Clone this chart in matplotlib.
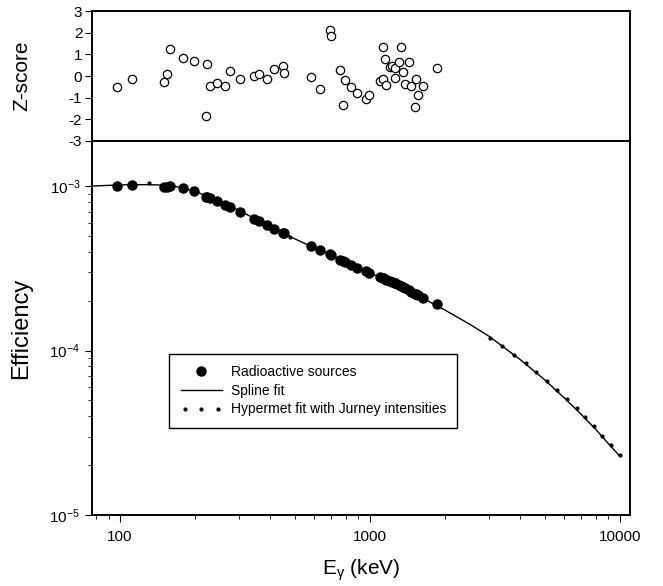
import numpy as np
import matplotlib
matplotlib.use("Agg")
import matplotlib.pyplot as plt
from matplotlib.lines import Line2D
from matplotlib.legend_handler import HandlerLine2D
from matplotlib.ticker import LogLocator, NullFormatter

plt.rcParams['font.family'] = ['Liberation Sans', 'DejaVu Sans']
plt.rcParams['mathtext.fontset'] = 'custom'
plt.rcParams['mathtext.rm'] = 'Liberation Sans'
plt.rcParams['mathtext.it'] = 'Liberation Sans:italic'
plt.rcParams['axes.unicode_minus'] = False

# source energies (keV) with their z-scores and measured efficiencies
energy = [97.5, 111.7, 150, 154.6, 158.8, 178, 197.7, 222.8, 221, 228, 245, 264, 276,
          303, 345, 359.5, 388, 415, 449, 452, 580, 631, 692, 699.6, 762, 783,
          796.6, 841, 891, 964, 994, 1094, 1128, 1124, 1151, 1159, 1208, 1228,
          1259, 1262, 1306, 1337, 1352, 1384, 1438, 1467, 1534, 1518, 1565, 1631, 1850]
zscore = [-0.53, -0.15, -0.27, 0.09, 1.25, 0.82, 0.69, 0.56, -1.83, -0.46, -0.34, -0.44, 0.23,
          -0.12, -0.02, 0.11, -0.14, 0.34, 0.44, 0.12, -0.05, -0.61, 2.11, 1.85, 0.29, -1.33,
          -0.2, -0.53, -0.79, -1.08, -0.89, -0.24, 1.36, -0.12, 0.78, -0.43, 0.43, 0.47,
          0.35, -0.11, 0.63, 1.33, 0.18, -0.38, 0.66, -0.46, -0.15, -1.45, -0.89, -0.46, 0.35]
eff = [1.00e-3, 1.01e-3, 0.99e-3, 0.99e-3, 1.00e-3, 0.97e-3, 0.93e-3, 0.86e-3, 0.86e-3,
       0.845e-3, 0.81e-3, 0.77e-3, 0.75e-3, 0.70e-3, 0.63e-3, 0.61e-3, 0.58e-3, 0.55e-3,
       0.52e-3, 0.52e-3, 0.43e-3, 0.41e-3, 0.385e-3, 0.38e-3, 0.356e-3, 0.348e-3,
       0.343e-3, 0.331e-3, 0.318e-3, 0.304e-3, 0.297e-3, 0.28e-3, 0.275e-3, 0.275e-3,
       0.271e-3, 0.269e-3, 0.263e-3, 0.26e-3, 0.257e-3, 0.257e-3, 0.251e-3, 0.247e-3,
       0.245e-3, 0.24e-3, 0.232e-3, 0.228e-3, 0.221e-3, 0.222e-3, 0.217e-3, 0.21e-3, 0.192e-3]

# spline fit
spline_e = [77, 90, 110, 130, 160, 200, 250, 300, 400, 500, 600, 700, 800, 1000, 1200,
            1500, 2000, 2500, 3000, 4000, 5000, 6000, 7000, 8000, 9000, 10000]
spline_eff = [1.0e-3, 1.01e-3, 1.02e-3, 1.02e-3, 1.01e-3, 0.93e-3, 0.80e-3, 0.71e-3,
              0.565e-3, 0.478e-3, 0.42e-3, 0.382e-3, 0.343e-3, 0.296e-3, 0.263e-3,
              0.222e-3, 0.176e-3, 0.145e-3, 1.22e-4, 0.88e-4, 0.665e-4, 0.515e-4,
              0.41e-4, 0.333e-4, 0.272e-4, 0.228e-4]

# hypermet fit dots
hyp_e = [130, 479, 3027, 3381, 3775, 4200, 4610, 5100, 5594, 6142, 6723, 7231, 7864, 8517, 9195, 10000]
hyp_eff = [1.047e-3, 0.49e-3, 1.20e-4, 1.07e-4, 0.945e-4, 0.837e-4, 0.742e-4, 0.657e-4, 0.577e-4,
           0.508e-4, 0.449e-4, 0.397e-4, 0.347e-4, 0.304e-4, 0.265e-4, 0.230e-4]

fig = plt.figure(figsize=(6.63, 5.86), dpi=100)
ax1 = fig.add_axes([0.1388, 0.7594, 0.8115, 0.2218])
ax2 = fig.add_axes([0.1388, 0.1212, 0.8115, 0.6382])

xlim = (77.2, 11000)

# z-score panel
ax1.plot(energy, zscore, 'o', mfc='white', mec='k', ms=6, mew=0.9)
ax1.set_xscale('log')
ax1.set_xlim(xlim)
ax1.set_ylim(-3, 3)
ax1.set_yticks([-3, -2, -1, 0, 1, 2, 3])
ax1.xaxis.set_major_formatter(NullFormatter())
ax1.xaxis.set_minor_formatter(NullFormatter())
ax1.tick_params(axis='x', which='both', direction='out', length=3)
ax1.tick_params(axis='y', direction='out', length=5, labelsize=11, pad=2)
ax1.set_ylabel('Z-score', fontsize=15)
ax1.yaxis.set_label_coords(-0.112, 0.5)

# efficiency panel
ax2.plot(spline_e, spline_eff, '-', color='k', lw=1.0)
ax2.plot(hyp_e, hyp_eff, 'o', color='k', ms=2, ls='none')
ax2.plot(energy, eff, 'o', color='k', ms=6.5)
ax2.set_xscale('log')
ax2.set_yscale('log')
ax2.set_xlim(xlim)
ax2.set_ylim(1e-5, 1.88e-3)
ax2.set_xticks([100, 1000, 10000])
ax2.set_xticklabels(['100', '1000', '10000'])
ax2.set_yticks([1e-5, 1e-4, 1e-3])
ax2.set_yticklabels(['10$^{-5}$', '10$^{-4}$', '10$^{-3}$'])
ax2.yaxis.set_minor_locator(LogLocator(base=10, subs=np.arange(2, 10)))
ax2.yaxis.set_minor_formatter(NullFormatter())
ax2.xaxis.set_minor_formatter(NullFormatter())
ax2.tick_params(which='major', direction='out', length=5, labelsize=11)
ax2.tick_params(which='minor', direction='out', length=3)
ax2.tick_params(axis='x', pad=6)
ax2.set_ylabel('Efficiency', fontsize=17)
ax2.yaxis.set_label_coords(-0.112, 0.5)
ax2.set_xlabel('E$_{\\mathrm{\\gamma}}$ (keV)', fontsize=15)
ax2.xaxis.set_label_coords(0.5, -0.115)

for a in (ax1, ax2):
    for s in a.spines.values():
        s.set_linewidth(1.4)

h_src = Line2D([], [], marker='o', color='k', ls='none', ms=6.5)
h_spl = Line2D([], [], color='k', lw=1.0)
h_hyp = Line2D([], [], marker='o', color='k', ls='none', ms=2)
leg = ax2.legend([h_src, h_spl, h_hyp],
                 ['Radioactive sources', 'Spline fit', 'Hypermet fit with Jurney intensities'],
                 loc='upper left', bbox_to_anchor=(0.131, 0.45), fontsize=10,
                 frameon=True, fancybox=False, edgecolor='k', framealpha=1,
                 handlelength=3, handletextpad=0.6, borderpad=0.8, labelspacing=0.35,
                 handler_map={h_hyp: HandlerLine2D(numpoints=3)})
leg.get_frame().set_linewidth(1.0)

fig.savefig('out.png', dpi=100)
